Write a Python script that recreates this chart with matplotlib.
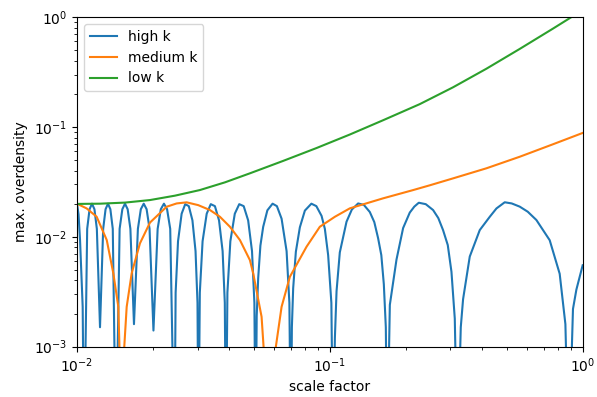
import matplotlib
matplotlib.use("Agg")
import matplotlib.pyplot as plt

# values
a_high = [0.01, 0.01014, 0.01028, 0.01053, 0.01066,
          0.01097, 0.01121, 0.01146, 0.01172, 0.01198, 0.01233,
          0.01269, 0.01297, 0.01326, 0.01355, 0.01385, 0.01426,
          0.01474, 0.01511, 0.01548, 0.01586, 0.01626, 0.01680,
          0.01741, 0.01788, 0.01836, 0.01885, 0.01936, 0.02006,
          0.02084, 0.02145, 0.02207, 0.02271, 0.02337, 0.02429,
          0.02455, 0.02509, 0.02593, 0.02679, 0.02768, 0.02861, 0.02943, 0.02996, 0.03022,
          0.03060, 0.03138, 0.03258, 0.03381, 0.03511, 0.03645, 0.03766, 0.03842, 0.03882,
          0.03934, 0.04041, 0.04208, 0.04382, 0.04563, 0.04752, 0.04922, 0.05030, 0.05085,
          0.05137, 0.05207, 0.05313, 0.05449, 0.05661, 0.05936, 0.06174, 0.06444, 0.06744,
          0.06918, 0.07013,
          0.07077, 0.07161, 0.07338, 0.07611, 0.07966, 0.08453, 0.08843, 0.09273, 0.09556,
          0.09847, 0.1014, 0.1030,
          0.1047, 0.1063, 0.1095, 0.1164, 0.1222, 0.1294, 0.1363, 0.1439, 0.1499, 0.1552,
          0.1598, 0.1635, 0.1665, 0.1685,
          0.1727, 0.1835, 0.1949, 0.2071, 0.2158, 0.2248, 0.2395, 0.2561, 0.2685, 0.2804,
          0.2927, 0.3027, 0.3120, 0.3197,
          0.3295, 0.3365, 0.3576, 0.3917, 0.4291, 0.4560, 0.4917, 0.5242, 0.5636, 0.6064,
          0.6561, 0.7406, 0.8111, 0.8544, 0.8804,
          0.9155, 0.9443, 1.0]
d_high = [0.020, 0.016, 0.0093, 0.0023, 0.0001,
          0.0118, 0.0178, 0.020, 0.0178, 0.0118, 0.0015,
          0.0118, 0.0178, 0.020, 0.0178, 0.0118, 0.0001,
          0.0118, 0.0178, 0.020, 0.0178, 0.0118, 0.0016,
          0.0118, 0.0178, 0.020, 0.0178, 0.0118, 0.0014,
          0.0118, 0.0178, 0.020, 0.0178, 0.0118, 0.0001,
          0.0031, 0.0091, 0.0162, 0.0198, 0.019, 0.0141, 0.0074, 0.0025, 0.0001,
          0.0031, 0.0091, 0.0162, 0.0198, 0.019, 0.0141, 0.0074, 0.0025, 0.0001,
          0.0031, 0.0091, 0.0162, 0.0198, 0.019, 0.0141, 0.0074, 0.0025, 0.0001,
          0.0019, 0.0042, 0.0083, 0.0123, 0.0174, 0.020, 0.019, 0.0146, 0.0074,
          0.0025, 0.0001,
          0.0015, 0.0034, 0.0073, 0.0122, 0.0173, 0.020, 0.019, 0.0155, 0.0118,
          0.0068, 0.0025, 0.0001,
          0.0012, 0.0032, 0.0072, 0.0137, 0.0177, 0.0201, 0.0195, 0.0168, 0.0136, 0.0097,
          0.0068, 0.0037, 0.0015, 0.0001,
          0.0024, 0.0062, 0.0120, 0.0166, 0.0188, 0.0204, 0.0198, 0.0175, 0.0148, 0.0115,
          0.0084, 0.0048, 0.0018, 0.0001,
          0.0015, 0.0027, 0.0066, 0.0115, 0.0152, 0.0181, 0.0206, 0.0201, 0.0188, 0.0169,
          0.0142, 0.0093, 0.0046, 0.0016, 0.0001,
          0.0022, 0.0033, 0.0055]

a_medium = [0.01, 0.01092, 0.01196, 0.01311, 0.01392, 0.01457, 0.01513, 0.01538, 0.01572,
            0.01645, 0.01774, 0.01944, 0.02262, 0.02478, 0.02714, 0.03016, 0.03356,
            0.03675, 0.04025, 0.04409, 0.04828, 0.04976, 0.05370, 0.05845, 0.06117,
            0.06443, 0.06949, 0.08087, 0.0913, 0.1047, 0.1200, 0.1624, 0.2135, 0.2485,
            0.3072, 0.4163, 0.5637, 0.7631, 1.0]
d_medium = [0.020, 0.0181, 0.0152, 0.00933, 0.00464, 0.0023, 0.0001, 0.001, 0.0023,
            0.00464, 0.00871, 0.01347, 0.01876, 0.0201, 0.02057, 0.0194, 0.0175,
            0.0152, 0.01233, 0.00933, 0.00613, 0.00464, 0.00187, 0.0001, 0.001,
            0.0023, 0.00432, 0.00811, 0.01233, 0.0152, 0.01814, 0.02237, 0.0266, 0.0294,
            0.0340, 0.0420, 0.0535, 0.0695, 0.0881]

a_low = [0.01, 0.01233, 0.01548, 0.01944, 0.02440, 0.03063, 0.03847, 0.04828, 0.06520,
         0.0886, 0.1200, 0.1624, 0.2268, 0.3072, 0.4163, 0.5637, 0.7631, 0.8886, 1.0]
d_low = [0.0199, 0.0200, 0.02046, 0.02158, 0.02366, 0.02662, 0.03128, 0.03779, 0.04893,
         0.06423, 0.08527, 0.1150, 0.1612, 0.2295, 0.3388, 0.5129, 0.7852, 0.9772, 1.161]

fig = plt.figure(figsize=(5.97, 3.97), dpi=100)
ax = fig.add_axes([0.129, 0.127, 0.847, 0.830])

ax.plot(a_high, d_high, label="high k")
ax.plot(a_medium, d_medium, label="medium k")
ax.plot(a_low, d_low, label="low k")

ax.set_xscale("log")
ax.set_yscale("log")
ax.set_xlim(1e-2, 1)
ax.set_ylim(1e-3, 1)
ax.set_xlabel("scale factor")
ax.set_ylabel("max. overdensity")
ax.legend(loc="upper left")

fig.savefig("out.png", dpi=100)
